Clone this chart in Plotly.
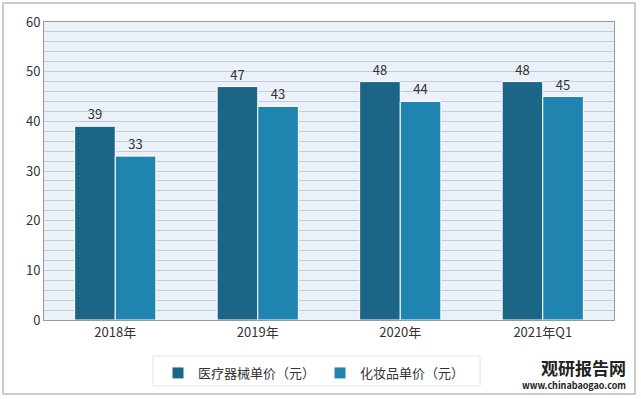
import plotly.graph_objects as go

categories = ["2018年", "2019年", "2020年", "2021年Q1"]
medical = [39, 47, 48, 48]
cosmetic = [33, 43, 44, 45]
series_names = ["医疗器械单价（元）", "化妆品单价（元）"]
y_ticks = [0, 10, 20, 30, 40, 50, 60]

W, H = 641, 399
L, R, T, B = 44, 27, 22, 79
pw, ph = W - L - R, H - T - B

def px(x):
    return (x - L) / pw

def py(y):
    return (H - B - y) / ph

font = "Noto Sans CJK SC, Noto Sans, sans-serif"

fig = go.Figure()
fig.add_bar(x=categories, y=medical, name=series_names[0],
            marker=dict(color="#1B6587", line=dict(color="white", width=1)),
            text=medical, textposition="outside",
            textfont=dict(size=13, color="#333333"), cliponaxis=False)
fig.add_bar(x=categories, y=cosmetic, name=series_names[1],
            marker=dict(color="#1F84B0", line=dict(color="white", width=1)),
            text=cosmetic, textposition="outside",
            textfont=dict(size=13, color="#333333"), cliponaxis=False)

shapes = [
    # outer frame
    dict(type="rect", xref="paper", yref="paper", layer="below",
         x0=px(3), x1=px(635), y0=py(394), y1=py(3),
         line=dict(color="#BBBBBB", width=1.5), fillcolor="rgba(0,0,0,0)"),
    # legend box
    dict(type="rect", xref="paper", yref="paper", layer="below",
         x0=px(153), x1=px(480), y0=py(386), y1=py(356),
         line=dict(color="#E4E4E4", width=1), fillcolor="rgba(0,0,0,0)"),
]

fig.update_layout(
    width=W, height=H,
    margin=dict(l=L, r=R, t=T, b=B, autoexpand=False),
    paper_bgcolor="white",
    plot_bgcolor="#EAF1F8",
    barmode="group",
    bargap=0.43, bargroupgap=0.0,
    font=dict(family=font, size=13, color="#333333"),
    showlegend=True,
    legend=dict(orientation="h", x=px(158), y=py(358), xanchor="left", yanchor="top",
                bgcolor="rgba(0,0,0,0)", font=dict(size=13, color="#333333"),
                itemwidth=30, traceorder="normal"),
    shapes=shapes,
    annotations=[
        dict(text="<b>观研报告网</b>", xref="paper", yref="paper",
             x=px(628), y=py(367), xanchor="right", yanchor="middle",
             showarrow=False, font=dict(size=17, color="#222222", family=font)),
        dict(text="<b>www.chinabaogao.com</b>", xref="paper", yref="paper",
             x=px(628), y=py(385), xanchor="right", yanchor="middle",
             showarrow=False, font=dict(size=9, color="#222222", family=font)),
    ],
)
fig.update_xaxes(showgrid=False, showline=True, linecolor="#999999", ticks="",
                 tickfont=dict(size=13, color="#333333"), mirror=True)
fig.update_yaxes(range=[0, 60], tickvals=y_ticks, showgrid=True, gridcolor="#C4CCD4",
                 gridwidth=1, minor=dict(dtick=2, showgrid=True, gridcolor="#C4CCD4"),
                 showline=True, linecolor="#999999", mirror=True, zeroline=False,
                 ticks="", tickfont=dict(size=13, color="#333333"))

fig.write_html("out.html", config={"displayModeBar": False},
               post_script="document.body.style.margin='0';document.body.style.padding='0';")
